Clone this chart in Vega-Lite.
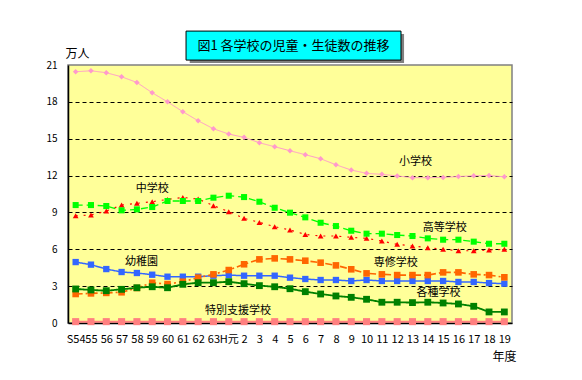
{
  "$schema": "https://vega.github.io/schema/vega-lite/v6.json",
  "width": 444,
  "height": 258,
  "autosize": {"type": "none"},
  "padding": {"left": 68, "top": 65, "right": 70, "bottom": 57},
  "background": "white",
  "config": {
    "view": {"stroke": "#808080", "fill": "#FFFF99", "strokeWidth": 1.5},
    "font": "Noto Sans CJK JP"
  },
  "datasets": {
    "students": [
      {"year": 1979, "小学校": 20.45, "中学校": 8.73, "高等学校": 9.60, "幼稚園": 4.96, "専修学校": 2.36, "各種学校": 2.77, "特別支援学校": 0.11},
      {"year": 1980, "小学校": 20.53, "中学校": 8.79, "高等学校": 9.60, "幼稚園": 4.75, "専修学校": 2.41, "各種学校": 2.69, "特別支援学校": 0.11},
      {"year": 1981, "小学校": 20.37, "中学校": 9.11, "高等学校": 9.52, "幼稚園": 4.39, "専修学校": 2.45, "各種学校": 2.63, "特別支援学校": 0.11},
      {"year": 1982, "小学校": 20.04, "中学校": 9.60, "高等学校": 9.17, "幼稚園": 4.15, "専修学校": 2.50, "各種学校": 2.74, "特別支援学校": 0.11},
      {"year": 1983, "小学校": 19.58, "中学校": 9.74, "高等学校": 9.25, "幼稚園": 4.07, "専修学校": 2.85, "各種学校": 2.87, "特別支援学校": 0.11},
      {"year": 1984, "小学校": 18.74, "中学校": 9.87, "高等学校": 9.44, "幼稚園": 3.93, "専修学校": 3.28, "各種学校": 2.95, "特別支援学校": 0.11},
      {"year": 1985, "小学校": 18.00, "中学校": 10.06, "高等学校": 9.93, "幼稚園": 3.77, "専修学校": 3.17, "各種学校": 2.87, "特別支援学校": 0.11},
      {"year": 1986, "小学校": 17.20, "中学校": 10.22, "高等学校": 9.93, "幼稚園": 3.77, "専修学校": 3.36, "各種学校": 3.15, "特別支援学校": 0.11},
      {"year": 1987, "小学校": 16.46, "中学校": 10.09, "高等学校": 9.93, "幼稚園": 3.77, "専修学校": 3.69, "各種学校": 3.28, "特別支援学校": 0.11},
      {"year": 1988, "小学校": 15.81, "中学校": 9.55, "高等学校": 10.20, "幼稚園": 3.85, "専修学校": 3.96, "各種学校": 3.28, "特別支援学校": 0.11},
      {"year": 1989, "小学校": 15.38, "中学校": 9.06, "高等学校": 10.36, "幼稚園": 3.90, "専修学校": 4.31, "各種学校": 3.36, "特別支援学校": 0.11},
      {"year": 1990, "小学校": 15.11, "中学校": 8.52, "高等学校": 10.25, "幼稚園": 3.85, "専修学校": 4.78, "各種学校": 3.20, "特別支援学校": 0.11},
      {"year": 1991, "小学校": 14.67, "中学校": 8.19, "高等学校": 9.87, "幼稚園": 3.85, "専修学校": 5.18, "各種学校": 3.04, "特別支援学校": 0.11},
      {"year": 1992, "小学校": 14.35, "中学校": 7.84, "高等学校": 9.38, "幼稚園": 3.85, "専修学校": 5.26, "各種学校": 2.95, "特別支援学校": 0.11},
      {"year": 1993, "小学校": 14.02, "中学校": 7.57, "高等学校": 8.98, "幼稚園": 3.69, "専修学校": 5.18, "各種学校": 2.79, "特別支援学校": 0.11},
      {"year": 1994, "小学校": 13.70, "中学校": 7.21, "高等学校": 8.60, "幼稚園": 3.58, "専修学校": 5.07, "各種学校": 2.55, "特別支援学校": 0.11},
      {"year": 1995, "小学校": 13.37, "中学校": 7.08, "高等学校": 8.16, "幼稚園": 3.50, "専修学校": 4.91, "各種学校": 2.36, "特別支援学校": 0.11},
      {"year": 1996, "小学校": 12.88, "中学校": 7.08, "高等学校": 7.89, "幼稚園": 3.50, "専修学校": 4.69, "各種学校": 2.20, "特別支援学校": 0.11},
      {"year": 1997, "小学校": 12.45, "中学校": 6.97, "高等学校": 7.51, "幼稚園": 3.42, "専修学校": 4.37, "各種学校": 2.09, "特別支援学校": 0.11},
      {"year": 1998, "小学校": 12.18, "中学校": 6.89, "高等学校": 7.27, "幼稚園": 3.50, "専修学校": 4.04, "各種学校": 1.93, "特別支援学校": 0.11},
      {"year": 1999, "小学校": 12.10, "中学校": 6.67, "高等学校": 7.27, "幼稚園": 3.42, "専修学校": 3.96, "各種学校": 1.69, "特別支援学校": 0.11},
      {"year": 2000, "小学校": 11.97, "中学校": 6.40, "高等学校": 7.16, "幼稚園": 3.42, "専修学校": 3.90, "各種学校": 1.69, "特別支援学校": 0.11},
      {"year": 2001, "小学校": 11.83, "中学校": 6.27, "高等学校": 7.08, "幼稚園": 3.42, "専修学校": 3.90, "各種学校": 1.66, "特別支援学校": 0.11},
      {"year": 2002, "小学校": 11.83, "中学校": 6.13, "高等学校": 6.89, "幼稚園": 3.42, "専修学校": 3.90, "各種学校": 1.69, "特別支援学校": 0.11},
      {"year": 2003, "小学校": 11.85, "中学校": 6.00, "高等学校": 6.78, "幼稚園": 3.42, "専修学校": 4.12, "各種学校": 1.63, "特別支援学校": 0.11},
      {"year": 2004, "小学校": 11.92, "中学校": 5.88, "高等学校": 6.78, "幼稚園": 3.34, "専修学校": 4.12, "各種学校": 1.55, "特別支援学校": 0.11},
      {"year": 2005, "小学校": 11.98, "中学校": 5.88, "高等学校": 6.62, "幼稚園": 3.34, "専修学校": 3.96, "各種学校": 1.36, "特別支援学校": 0.11},
      {"year": 2006, "小学校": 12.00, "中学校": 5.94, "高等学校": 6.45, "幼稚園": 3.25, "専修学校": 3.90, "各種学校": 0.90, "特別支援学校": 0.11},
      {"year": 2007, "小学校": 11.90, "中学校": 6.00, "高等学校": 6.45, "幼稚園": 3.20, "専修学校": 3.72, "各種学校": 0.90, "特別支援学校": 0.11}
    ],
    "labels": [
      {"label": "小学校", "year": 2001.2, "value": 13.1},
      {"label": "中学校", "year": 1984.0, "value": 10.9},
      {"label": "高等学校", "year": 2003.1, "value": 7.73},
      {"label": "幼稚園", "year": 1983.3, "value": 4.96},
      {"label": "専修学校", "year": 1999.9, "value": 4.88},
      {"label": "各種学校", "year": 2002.7, "value": 2.44},
      {"label": "特別支援学校", "year": 1989.6, "value": 0.98}
    ]
  },
  "layer": [
    {
      "data": {"values": [{}]},
      "mark": {"type": "rect", "fill": "#808080"},
      "encoding": {
        "x": {"datum": 1986.45, "type": "quantitative", "scale": {"domain": [1978.5, 2007.5], "nice": false, "zero": false}},
        "x2": {"datum": 2000.45},
        "y": {"datum": 23.52, "type": "quantitative", "scale": {"domain": [0, 21], "nice": false}},
        "y2": {"datum": 21.16}
      }
    },
    {
      "data": {"values": [{}]},
      "mark": {"type": "rect", "fill": "#00FFFF", "stroke": "black", "strokeWidth": 1},
      "encoding": {
        "x": {"datum": 1986.21, "type": "quantitative", "scale": {"domain": [1978.5, 2007.5], "nice": false, "zero": false}},
        "x2": {"datum": 2000.25},
        "y": {"datum": 23.76, "type": "quantitative", "scale": {"domain": [0, 21], "nice": false}},
        "y2": {"datum": 21.4}
      }
    },
    {
      "data": {"values": [{}]},
      "mark": {"type": "text", "fontSize": 13, "color": "black", "align": "center", "baseline": "middle", "text": "図1 各学校の児童・生徒数の推移"},
      "encoding": {
        "x": {"datum": 1993.23, "type": "quantitative", "scale": {"domain": [1978.5, 2007.5], "nice": false, "zero": false}},
        "y": {"datum": 22.58, "type": "quantitative", "scale": {"domain": [0, 21], "nice": false}}
      }
    },
    {
      "data": {"name": "students"},
      "transform": [{"fold": ["小学校", "中学校", "高等学校", "幼稚園", "専修学校", "各種学校", "特別支援学校"], "as": ["school", "value"]}],
      "mark": {"type": "line"},
      "encoding": {
        "x": {
          "field": "year", "type": "quantitative",
          "scale": {"domain": [1978.5, 2007.5], "nice": false, "zero": false},
          "axis": {
            "values": [1979,1980,1981,1982,1983,1984,1985,1986,1987,1988,1989,1990,1991,1992,1993,1994,1995,1996,1997,1998,1999,2000,2001,2002,2003,2004,2005,2006,2007],
            "tickCount": 100,
            "labelExpr": "datum.value == 1979 ? 'S54' : datum.value < 1989 ? '' + (datum.value - 1925) : datum.value == 1989 ? 'H元' : '' + (datum.value - 1988)",
            "labelOverlap": false, "labelFlush": false, "labelFontSize": 11, "labelColor": "black", "labelPadding": 10, "labelSeparation": 0,
            "ticks": false, "grid": false, "domainColor": "black", "domainWidth": 1.5,
            "title": "年度", "titleX": 436, "titleY": 33, "titleAlign": "center", "titleBaseline": "middle",
            "titleFontSize": 12, "titleFontWeight": "normal", "titleColor": "black"
          }
        },
        "y": {
          "field": "value", "type": "quantitative",
          "scale": {"domain": [0, 21], "nice": false},
          "axis": {
            "values": [0, 3, 6, 9, 12, 15, 18, 21],
            "tickCount": 100,
            "format": "d",
            "labelOverlap": false,
            "title": "万人", "titleAngle": 0, "titleX": 9, "titleY": -12, "titleAlign": "center", "titleBaseline": "middle",
            "titleFontSize": 12, "titleFontWeight": "normal", "titleColor": "black",
            "domainColor": "black", "domainWidth": 1.5, "ticks": false, "labelPadding": 11,
            "labelFontSize": 10, "labelColor": "black",
            "grid": true, "gridColor": "black", "gridDash": [4, 3], "gridWidth": 1,
            "gridOpacity": {"condition": {"test": "datum.value == 0 || datum.value == 21", "value": 0}, "value": 1}
          }
        },
        "color": {
          "field": "school", "type": "nominal", "legend": null,
          "scale": {"domain": ["小学校", "中学校", "高等学校", "幼稚園", "専修学校", "各種学校", "特別支援学校"],
                    "range": ["#FF99CC", "#FF0000", "#00FF00", "#3366FF", "#FF6600", "#008000", "#FF8080"]}
        },
        "strokeDash": {
          "field": "school", "type": "nominal", "legend": null,
          "scale": {"domain": ["小学校", "中学校", "高等学校", "幼稚園", "専修学校", "各種学校", "特別支援学校"],
                    "range": [[1, 0], [2, 6], [7, 4], [1, 0], [7, 3, 2, 3], [1, 0], [1, 0]]}
        },
        "strokeWidth": {
          "field": "school", "type": "nominal", "legend": null,
          "scale": {"domain": ["小学校", "中学校", "高等学校", "幼稚園", "専修学校", "各種学校", "特別支援学校"],
                    "range": [1, 2, 2, 1.2, 2, 1.2, 1.5]}
        }
      }
    },
    {
      "data": {"name": "students"},
      "transform": [{"fold": ["小学校", "中学校", "高等学校", "幼稚園", "専修学校", "各種学校", "特別支援学校"], "as": ["school", "value"]}],
      "mark": {"type": "point", "filled": true, "opacity": 1},
      "encoding": {
        "x": {"field": "year", "type": "quantitative", "scale": {"domain": [1978.5, 2007.5], "nice": false, "zero": false}},
        "y": {"field": "value", "type": "quantitative", "scale": {"domain": [0, 21], "nice": false}},
        "color": {
          "field": "school", "type": "nominal", "legend": null,
          "scale": {"domain": ["小学校", "中学校", "高等学校", "幼稚園", "専修学校", "各種学校", "特別支援学校"],
                    "range": ["#FF99CC", "#FF0000", "#00FF00", "#3366FF", "#FF6600", "#008000", "#FF8080"]}
        },
        "shape": {
          "field": "school", "type": "nominal", "legend": null,
          "scale": {"domain": ["小学校", "中学校", "高等学校", "幼稚園", "専修学校", "各種学校", "特別支援学校"],
                    "range": ["diamond", "triangle-up", "square", "square", "square", "square", "square"]}
        },
        "size": {
          "field": "school", "type": "nominal", "legend": null,
          "scale": {"domain": ["小学校", "中学校", "高等学校", "幼稚園", "専修学校", "各種学校", "特別支援学校"],
                    "range": [30, 50, 36, 25, 64, 64, 49]}
        }
      }
    },
    {
      "data": {"name": "labels"},
      "mark": {"type": "text", "fontSize": 11, "color": "black", "align": "center", "baseline": "middle"},
      "encoding": {
        "x": {"field": "year", "type": "quantitative", "scale": {"domain": [1978.5, 2007.5], "nice": false, "zero": false}},
        "y": {"field": "value", "type": "quantitative", "scale": {"domain": [0, 21], "nice": false}},
        "text": {"field": "label"}
      }
    }
  ]
}
